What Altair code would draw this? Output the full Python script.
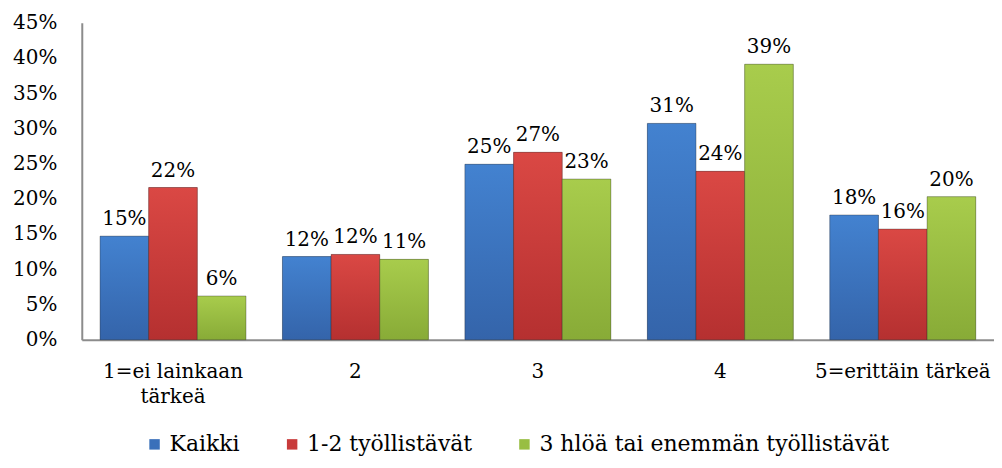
import altair as alt
import pandas as pd

categories = ["1=ei lainkaan tärkeä", "2", "3", "4", "5=erittäin tärkeä"]
series = ["Kaikki", "1-2 työllistävät", "3 hlöä tai enemmän työllistävät"]
kaikki = [14.7, 11.8, 24.9, 30.7, 17.7]
pienet = [21.6, 12.1, 26.6, 23.9, 15.7]
suuret = [6.2, 11.4, 22.8, 39.1, 20.3]
y_ticks = [0, 5, 10, 15, 20, 25, 30, 35, 40, 45]

colors_mid = ["#3A70BA", "#C83B3B", "#98BE43"]
grad_stops = [
    ("#4382D0", "#3464AA"),
    ("#DA4844", "#B53030"),
    ("#A8CC4C", "#88AB37"),
]

rows = []
for s, vals in zip(series, [kaikki, pienet, suuret]):
    for c, v in zip(categories, vals):
        rows.append({"cat": c, "s": s, "v": v})
df = pd.DataFrame(rows)

FONT = "DejaVu Serif"

x_enc = alt.X(
    "cat:N",
    sort=categories,
    scale=alt.Scale(domain=categories, paddingInner=0.2, paddingOuter=0.1),
    axis=alt.Axis(
        title=None,
        labelAngle=0,
        ticks=False,
        tickSize=0,
        labelPadding=22,
        labelFont=FONT,
        labelFontSize=20,
        labelColor="#000000",
        labelLineHeight=25,
        labelBaseline="top",
        labelLimit=400,
        labelOverlap=False,
        domainColor="#8C8C8C",
        domainWidth=2,
        labelExpr="datum.label == '1=ei lainkaan tärkeä' ? ['1=ei lainkaan', 'tärkeä'] : datum.label",
    ),
)
xo_enc = alt.XOffset("s:N", sort=series, scale=alt.Scale(domain=series, paddingInner=0, paddingOuter=0))
y_enc = alt.Y(
    "v:Q",
    scale=alt.Scale(domain=[0, 45], nice=False),
    axis=alt.Axis(
        title=None,
        values=y_ticks,
        grid=False,
        ticks=False,
        tickSize=0,
        labelPadding=25,
        labelFont=FONT,
        labelFontSize=20,
        labelColor="#000000",
        domainColor="#8C8C8C",
        domainWidth=2,
        labelExpr="datum.value + '%'",
    ),
)

base = alt.Chart(df).mark_bar().encode(
    x=x_enc,
    xOffset=xo_enc,
    y=y_enc,
    color=alt.Color(
        "s:N",
        sort=series,
        scale=alt.Scale(domain=series, range=colors_mid),
        legend=alt.Legend(
            title=None,
            orient="none",
            legendX=62,
            legendY=412,
            direction="horizontal",
            symbolType="square",
            symbolSize=110,
            symbolStrokeWidth=0,
            labelFont=FONT,
            labelFontSize=22,
            labelColor="#000000",
            labelOffset=4,
            columnPadding=41,
            padding=0,
            labelLimit=500,
        ),
    ),
)

layers = [base]
for s, (c1, c2) in zip(series, grad_stops):
    grad = alt.Gradient(
        gradient="linear",
        x1=0, x2=0, y1=0, y2=1,
        stops=[alt.GradientStop(color=c1, offset=0), alt.GradientStop(color=c2, offset=1)],
    )
    layers.append(
        alt.Chart(df)
        .transform_filter(alt.datum.s == s)
        .mark_bar(fill=grad, stroke="#2a2a2a", strokeOpacity=0.35, strokeWidth=1)
        .encode(x=x_enc, xOffset=xo_enc, y=y_enc)
    )

text = (
    alt.Chart(df)
    .transform_calculate(lbl="format(datum.v, '.0f') + '%'")
    .mark_text(font=FONT, fontSize=20, color="#000000", baseline="bottom", dy=-7)
    .encode(x=x_enc, xOffset=xo_enc, y=y_enc, text="lbl:N")
)
layers.append(text)

chart = (
    alt.layer(*layers)
    .properties(
        width=915,
        height=318,
        padding={"left": 74, "top": 14, "right": 0, "bottom": 128},
        autosize=alt.AutoSizeParams(type="none"),
        background="#FFFFFF",
    )
    .configure_view(stroke=None)
)

chart.save("out.html", embed_options={"renderer": "svg", "actions": False})
